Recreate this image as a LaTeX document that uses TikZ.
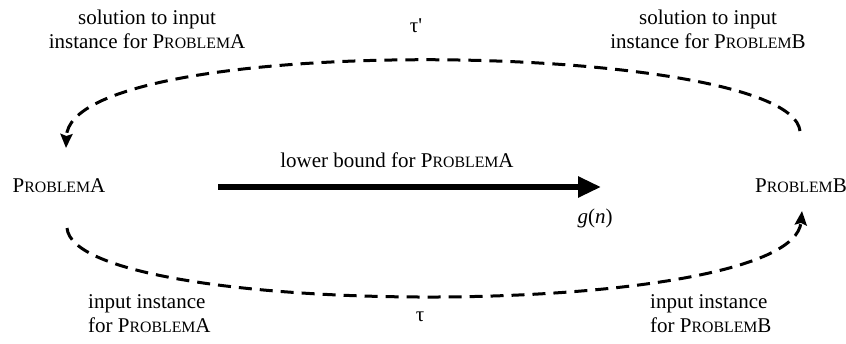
\documentclass[tikz,border=0pt]{standalone}
\usepackage{fontspec}
\setmainfont{Liberation Serif}
\usetikzlibrary{arrows.meta}
\newcommand\probname[1]{P{\fontsize{15.8pt}{18pt}\selectfont ROBLEM}#1}
\newcommand\straightquote{{\addfontfeatures{Ligatures=TeXOff}'}}
\tikzset{
  lbl/.style={font=\fontsize{21pt}{24pt}\selectfont, inner sep=0pt},
  conn/.style={dash pattern=on 13pt off 8pt, line width=3pt},
  bigarrow/.style={line width=5.5pt, -{Triangle[length=23pt,width=20pt]}},
  smalltip/.style={-{Stealth[length=14pt,width=12pt,inset=2pt]}}
}
\begin{document}
\begin{tikzpicture}[x=1pt,y=-1pt]
\useasboundingbox (0,0) rectangle (846,343);
\node[lbl] (PA) at (59,186) {\probname{A}};
\node[lbl] (PB) at (801,186) {\probname{B}};
\coordinate (PAtop) at (66,148);
\coordinate (PAbot) at (67,228);
\coordinate (PBtop) at (800,131);
\coordinate (PBbot) at (802,211);
\node[lbl, align=center] (solA) at (147,29) {solution to input\\instance for \probname{A}};
\node[lbl, align=center] (solB) at (708,29) {solution to input\\instance for \probname{B}};
\node[lbl, align=left, anchor=west] (inA) at (88,314) {input instance\\for \probname{A}};
\node[lbl, align=left, anchor=west] (inB) at (650,314) {input instance\\for \probname{B}};
\node[lbl] (taup) at (416,26) {τ\straightquote};
\node[lbl] (tau) at (420,317) {τ};
\node[lbl] (lb) at (397,160) {lower bound for \probname{A}};
\node[lbl] (gn) at (595,218) {\textit{g}(\textit{n})};
\coordinate (arS) at (218,187);
\coordinate (arE) at (601,187);
\draw[bigarrow] (arS) -- (arE);
\draw[conn, smalltip] (PBtop) .. controls (790,40) and (70,30) .. (PAtop);
\draw[conn, smalltip] (PAbot) .. controls (75,320) and (792,322) .. (PBbot);
\end{tikzpicture}
\end{document}
